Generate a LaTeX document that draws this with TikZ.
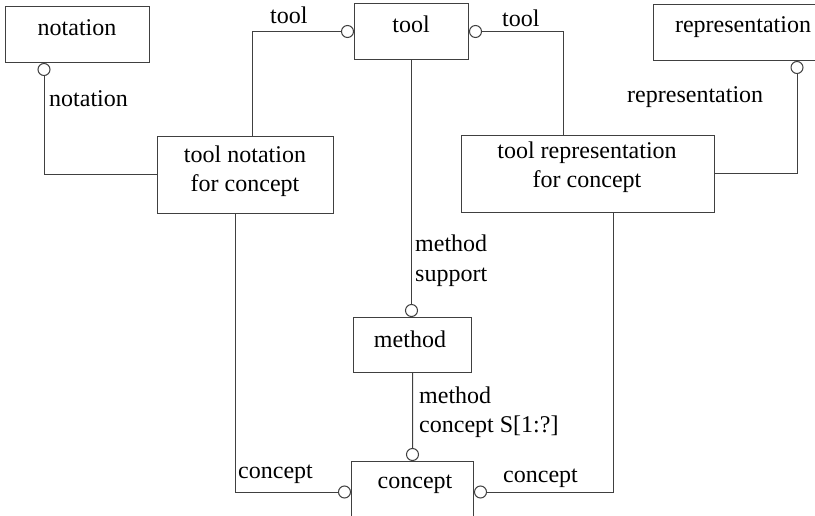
\documentclass[tikz,border=0pt]{standalone}
\usepackage{fontspec}
\setmainfont{Liberation Serif}
\usetikzlibrary{arrows.meta}
\begin{document}
\begin{tikzpicture}[x=1bp, y=-1bp,
  font=\fontsize{24.1}{29}\selectfont,
  entbox/.style={draw=black!75, line width=1bp, inner sep=0pt, anchor=north west},
  txt/.style={inner sep=0pt, anchor=base},
  lbl/.style={inner sep=0pt, anchor=base west},
  rel/.style={draw=black!75, line width=1bp, -{Circle[open, length=13bp, width=13bp, line width=1bp]}}]
\useasboundingbox (0,0) rectangle (815,516);
\clip (0,0) rectangle (815,516);

% entity boxes
\node[entbox, minimum width=144bp, minimum height=56bp] (notation) at (5,6) {};
\node[entbox, minimum width=114bp, minimum height=56bp] (tool) at (354,3) {};
\node[entbox, minimum width=180bp, minimum height=56bp] (rep) at (653,4) {};
\node[entbox, minimum width=176bp, minimum height=77bp] (tnc) at (157,136) {};
\node[entbox, minimum width=253bp, minimum height=77bp] (trc) at (461,135) {};
\node[entbox, minimum width=118bp, minimum height=55bp] (method) at (353,317) {};
\node[entbox, minimum width=122bp, minimum height=80bp] (concept) at (351,461) {};

% box titles
\node[txt] (notationT) at (77,36) {notation};
\node[txt] (toolT) at (411,33) {tool};
\node[txt] (repT) at (743,33) {representation};
\node[txt] (tncA) at (245,163) {tool notation};
\node[txt] (tncB) at (245,192) {for concept};
\node[txt] (trcA) at (587,159) {tool representation};
\node[txt] (trcB) at (587,188) {for concept};
\node[txt] (methodT) at (410,347) {method};
\node[txt] (conceptT) at (415,488) {concept};

% relationships
\draw[rel] (tnc.west) -| ([xshift=39bp]notation.south west);
\draw[rel] ([xshift=95bp]tnc.north west) |- (tool.west);
\draw[rel] ([xshift=102bp]trc.north west) |- (tool.east);
\draw[rel] (trc.east) -| ([xshift=144bp]rep.south west);
\draw[rel] (tool.south) -- (tool.south |- method.north);
\draw[rel] (method.south) -- (concept.north);
\draw[rel] ([xshift=78bp]tnc.south west) |- ([yshift=-31bp]concept.north west);
\draw[rel] ([xshift=152bp]trc.south west) |- ([yshift=-31bp]concept.north east);

% role labels
\node[lbl] (l1) at (49,107) {notation};
\node[lbl] (l2) at (270,24) {tool};
\node[lbl] (l3) at (502,27) {tool};
\node[lbl] (l4) at (627,103) {representation};
\node[lbl] (l5) at (415,252) {method};
\node[lbl] (l6) at (415,282) {support};
\node[lbl] (l7) at (419,403) {method};
\node[lbl] (l8) at (419,432) {concept S[1:?]};
\node[lbl] (l9) at (238,478) {concept};
\node[lbl] (l10) at (503,482) {concept};
\end{tikzpicture}
\end{document}
